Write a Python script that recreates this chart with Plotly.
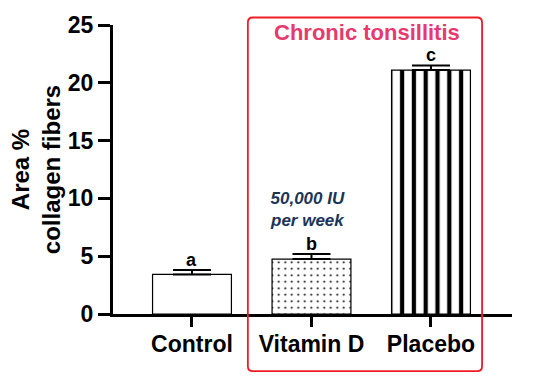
import plotly.graph_objects as go

categories = ["Control", "Vitamin D", "Placebo"]
means = [3.42, 4.75, 21.1]
errors = [0.38, 0.45, 0.40]
letters = ["a", "b", "c"]
patterns = ["", ".", "|"]
y_ticks = [0, 5, 10, 15, 20, 25]

FONT = "Liberation Sans, Arial, sans-serif"

fig = go.Figure()
fig.add_trace(go.Bar(
    x=categories, y=means, width=0.66,
    marker=dict(
        color="white",
        line=dict(color="black", width=1.2),
        pattern=dict(shape=patterns, fgcolor="black", bgcolor="white",
                     fgopacity=1, fillmode="replace",
                     size=[8, 6.5, 11.8], solidity=[0.2, 0.08, 0.36]),
    ),
    error_y=dict(type="data", symmetric=False, array=errors,
                 arrayminus=[0] * len(errors), color="black",
                 thickness=2, width=19),
    showlegend=False,
))

for c, m, e, l in zip(categories, means, errors, letters):
    fig.add_annotation(x=c, y=m + e, text=f"<b>{l}</b>", showarrow=False,
                       yanchor="bottom", yshift=-2,
                       font=dict(family=FONT, size=18, color="black"))

fig.add_annotation(x="Vitamin D", y=5.4, yanchor="bottom", yshift=20, xshift=-4,
                   text="<b><i>50,000 IU<br>per week</i></b>", showarrow=False,
                   font=dict(family=FONT, size=17, color="#1c3557"))

fig.add_annotation(xref="paper", yref="paper", x=0.637, y=0.974,
                   xanchor="center", yanchor="middle",
                   text="<b>Chronic tonsillitis</b>", showarrow=False,
                   font=dict(family=FONT, size=22, color="#e63a6e"))

# rounded red box in paper coordinates
x0, x1, y0, y1 = 0.338, 0.925, -0.198, 1.026
rx, ry = 0.0125, 0.0172
path = (f"M {x0+rx},{y1} L {x1-rx},{y1} Q {x1},{y1} {x1},{y1-ry} "
        f"L {x1},{y0+ry} Q {x1},{y0} {x1-rx},{y0} "
        f"L {x0+rx},{y0} Q {x0},{y0} {x0},{y0+ry} "
        f"L {x0},{y1-ry} Q {x0},{y1} {x0+rx},{y1} Z")
fig.add_shape(type="path", path=path, xref="paper", yref="paper",
              line=dict(color="#ee1c25", width=1.8), layer="above")

fig.update_layout(
    width=535, height=376,
    margin=dict(l=113, r=23, t=23, b=62),
    paper_bgcolor="white", plot_bgcolor="white",
    font=dict(family=FONT, color="black"),
    xaxis=dict(range=[-0.661, 2.678], showline=True, linecolor="black",
               linewidth=3, ticks="outside", ticklen=10, tickwidth=3,
               tickcolor="black", showgrid=False, zeroline=False,
               ticklabelstandoff=-3,
               tickfont=dict(family=FONT, size=23, weight="bold")),
    yaxis=dict(range=[0, 25], tickvals=y_ticks, showline=True,
               linecolor="black", linewidth=3, ticks="outside", ticklen=12,
               tickwidth=3, tickcolor="black", showgrid=False, zeroline=False,
               tickfont=dict(family=FONT, size=23, weight="bold"),
               title=dict(text="<b>Area %<br>collagen fibers</b>",
                          font=dict(family=FONT, size=24), standoff=1)),
)

fig.write_html("out.html", config={"displayModeBar": False},
               post_script="document.body.style.margin='0';document.body.style.overflow='hidden';")
